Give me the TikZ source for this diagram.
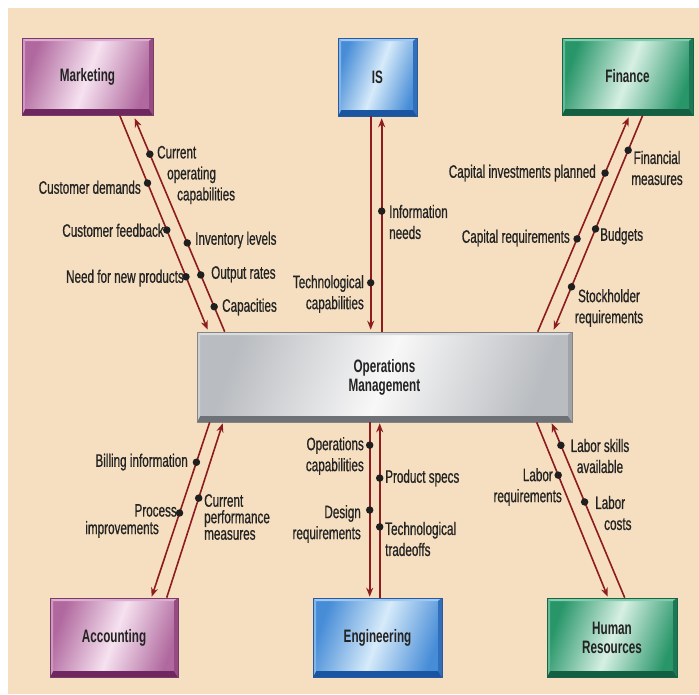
\documentclass[tikz,border=0pt]{standalone}
\usepackage{fontspec}
\setmainfont{Liberation Sans}[FakeStretch=0.65]
\newfontfamily\lblfont{Liberation Sans}[FakeStretch=0.65, FakeBold=0.7]
\usetikzlibrary{arrows.meta,calc}
\definecolor{bg}{RGB}{246,223,192}
\definecolor{arrowred}{RGB}{140,28,30}
\definecolor{txt}{RGB}{35,35,35}
% purple
\definecolor{pFace}{RGB}{176,104,158}\definecolor{pHi}{RGB}{246,226,240}
\definecolor{pTop}{RGB}{222,174,208}\definecolor{pLeft}{RGB}{208,152,192}
\definecolor{pRight}{RGB}{150,75,130}\definecolor{pBot}{RGB}{110,40,95}
\definecolor{pEdge}{RGB}{120,60,105}
% blue
\definecolor{bFace}{RGB}{70,140,215}\definecolor{bHi}{RGB}{215,235,250}
\definecolor{bTop}{RGB}{160,200,240}\definecolor{bLeft}{RGB}{130,180,230}
\definecolor{bRight}{RGB}{50,110,185}\definecolor{bBot}{RGB}{25,85,160}
\definecolor{bEdge}{RGB}{40,90,160}
% green
\definecolor{gFace}{RGB}{40,150,105}\definecolor{gHi}{RGB}{215,240,228}
\definecolor{gTop}{RGB}{130,205,170}\definecolor{gLeft}{RGB}{100,185,150}
\definecolor{gRight}{RGB}{30,120,85}\definecolor{gBot}{RGB}{20,95,65}
\definecolor{gEdge}{RGB}{25,100,70}
% gray
\definecolor{sFace}{RGB}{185,188,192}\definecolor{sHi}{RGB}{248,248,248}
\definecolor{sTop}{RGB}{218,220,222}\definecolor{sLeft}{RGB}{205,207,210}
\definecolor{sRight}{RGB}{160,163,167}\definecolor{sBot}{RGB}{110,113,117}
\definecolor{sEdge}{RGB}{130,132,135}
\tikzset{
  bevbox/.style={draw=#1Edge, line width=0.6pt,
    left color=#1Face, right color=#1Face, middle color=#1Hi, shading angle=70,
    font=\bfseries\fontsize{18}{19}\selectfont, text=txt, align=center,
    path picture={
      \fill[#1Top] (path picture bounding box.north west) -- (path picture bounding box.north east)
        -- ([xshift=-4pt,yshift=-3pt]path picture bounding box.north east)
        -- ([xshift=3pt,yshift=-3pt]path picture bounding box.north west) -- cycle;
      \fill[#1Bot] (path picture bounding box.south west) -- (path picture bounding box.south east)
        -- ([xshift=-4pt,yshift=6pt]path picture bounding box.south east)
        -- ([xshift=3pt,yshift=6pt]path picture bounding box.south west) -- cycle;
      \fill[#1Left] (path picture bounding box.north west) -- ([xshift=3pt,yshift=-3pt]path picture bounding box.north west)
        -- ([xshift=3pt,yshift=6pt]path picture bounding box.south west) -- (path picture bounding box.south west) -- cycle;
      \fill[#1Right] (path picture bounding box.north east) -- ([xshift=-4pt,yshift=-3pt]path picture bounding box.north east)
        -- ([xshift=-4pt,yshift=6pt]path picture bounding box.south east) -- (path picture bounding box.south east) -- cycle;
    }},
  flow/.style={draw=arrowred, line width=1.6pt, -{Stealth[length=9pt,width=7pt]}},
  dot/.style={circle, fill=black!88, inner sep=0pt, minimum size=7.5pt},
  lbl/.style={font=\lblfont\fontsize{18}{21}\selectfont, text=txt, inner sep=0pt},
  lbl1/.style={lbl, text height=13pt, text depth=3.5pt}
}
\begin{document}
\begin{tikzpicture}[x=1pt,y=-1pt]
\useasboundingbox (0,0) rectangle (699,694);
\fill[white] (0,0) rectangle (699,694);
\fill[bg] (8,8) rectangle (699,694);

% boxes
\node[bevbox=p, minimum width=131pt, minimum height=77pt] (mkt) at (87.5,76.5) {Marketing};
\node[bevbox=b, minimum width=79pt, minimum height=78pt] (is) at (377.5,77) {IS};
\node[bevbox=g, minimum width=131pt, minimum height=77pt] (fin) at (627.5,76.5) {Finance};
\node[bevbox=s, minimum width=375pt, minimum height=90pt] (ops) at (384.5,377) {Operations\\Management};
\node[bevbox=p, minimum width=128pt, minimum height=79pt] (acc) at (114,637.5) {Accounting};
\node[bevbox=b, minimum width=129pt, minimum height=79pt] (eng) at (377.5,637.5) {Engineering};
\node[bevbox=g, minimum width=130pt, minimum height=79pt] (hr) at (612,637.5) {Human\\Resources};

% Marketing
\draw[flow] ($(mkt.south west)+(98,0)$) --
  node[dot,pos=.316](dcd){} node[dot,pos=.535](dcf){} node[dot,pos=.753](dnp){}
  ($(ops.north west)+(11,-2)$);
\draw[flow] ($(ops.north west)+(28,0)$) --
  node[dot,pos=.832](dcod){} node[dot,pos=.416](dinv){} node[dot,pos=.266](dout){} node[dot,pos=.117](dcap){}
  ($(mkt.south west)+(113,3)$);
\node[lbl, anchor=west, align=left] (lcod) at (157,175) {Current\\\hspace*{10pt}operating\\\hspace*{20pt}capabilities};
\node[lbl1, anchor=east] (lcd) at (141,189) {Customer demands};
\node[lbl1, anchor=east] (lcf) at (164,232) {Customer feedback};
\node[lbl1, anchor=east] (lnp) at (184,278) {Need for new products};
\node[lbl1, anchor=west] (linv) at (195,240) {Inventory levels};
\node[lbl1, anchor=west] (lout) at (211,274) {Output rates};
\node[lbl1, anchor=west] (lcap) at (222,307) {Capacities};

% IS
\draw[flow] ($(is.south west)+(33,0)$) -- node[dot,pos=.78](dtc){} ($(ops.north west)+(174,-2)$);
\draw[flow] ($(ops.north west)+(185,0)$) -- node[dot,pos=.565](din){} ($(is.south west)+(44,2)$);
\node[lbl, anchor=east, align=right] (ltc) at (364,294) {Technological\\capabilities};
\node[lbl, anchor=west, align=left] (lin) at (389,222) {Information\\needs};

% Finance
\draw[flow] ($(ops.north west)+(341,0)$) --
  node[dot,pos=.74](dcip){} node[dot,pos=.433](dcr){}
  ($(fin.south west)+(67,2)$);
\draw[flow] ($(fin.south west)+(81,0)$) --
  node[dot,pos=.163](dfm){} node[dot,pos=.53](dbud){} node[dot,pos=.8](dsr){}
  ($(ops.north west)+(357,-2)$);
\node[lbl1, anchor=east] (lcip) at (596,173) {Capital investments planned};
\node[lbl, align=center] (lfm) at (657,168) {Financial\\measures};
\node[lbl1, anchor=east] (lcr) at (570,238) {Capital requirements};
\node[lbl1, anchor=west] (lbud) at (600,236) {Budgets};
\node[lbl, align=center] (lsr) at (609,308) {Stockholder\\requirements};

% Accounting
\draw[flow] ($(ops.south west)+(13,0)$) --
  node[dot,pos=.229](dbi){} node[dot,pos=.52](dpi){}
  ($(acc.north west)+(102,-1)$);
\draw[flow] ($(acc.north west)+(117,0)$) -- node[dot,pos=.571](dcpm){} ($(ops.south west)+(26,1)$);
\node[lbl1, anchor=east] (lbi) at (188,462) {Billing information};
\node[lbl, anchor=east, align=right, font=\lblfont\fontsize{18}{17.5}\selectfont] (lpi) at (177,521) {Process\\improvements\hspace*{18pt}};
\node[lbl, anchor=west, align=left, font=\lblfont\fontsize{18}{16.5}\selectfont] (lcpm) at (204,517) {Current\\performance\\measures};

% Engineering
\draw[flow] ($(ops.south west)+(173,0)$) --
  node[dot,pos=.131](doc){} node[dot,pos=.503](ddr){}
  ($(eng.north west)+(57,-1)$);
\draw[flow] ($(eng.north west)+(67,0)$) --
  node[dot,pos=.686](dps){} node[dot,pos=.406](dtt){}
  ($(ops.south west)+(183,1)$);
\node[lbl, anchor=east, align=right] (loc) at (364,456) {Operations\\capabilities};
\node[lbl, anchor=east, align=right] (ldr) at (361,524) {Design\\requirements};
\node[lbl1, anchor=west] (lps) at (385,478) {Product specs};
\node[lbl, anchor=west, align=left] (ltt) at (385,539) {Technological\\tradeoffs};

% Human Resources
\draw[flow] ($(ops.south west)+(340,0)$) -- node[dot,pos=.303](dlr){} ($(hr.north west)+(61,-1)$);
\draw[flow] ($(hr.north west)+(78,0)$) --
  node[dot,pos=.874](dlsa){} node[dot,pos=.549](dlc){}
  ($(ops.south west)+(355,1)$);
\node[lbl, align=center] (llsa) at (600,456) {Labor skills\\available};
\node[lbl, anchor=east, align=right] (llr) at (562,487) {Labor\hspace*{9pt}\\requirements};
\node[lbl, anchor=west, align=left] (llc) at (595,513) {Labor\\\hspace*{9pt}costs};
\end{tikzpicture}
\end{document}
